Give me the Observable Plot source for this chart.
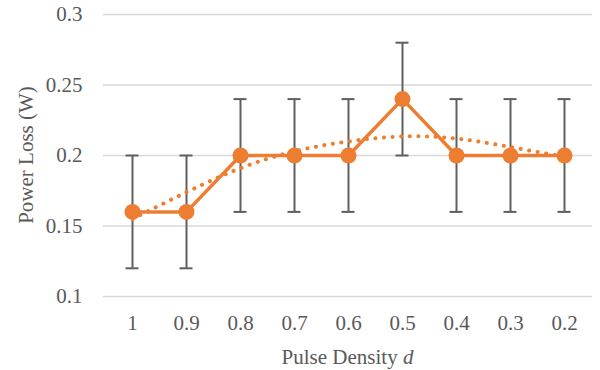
<!DOCTYPE html>
<html>
<head>
<meta charset="utf-8">
<script src="https://cdn.jsdelivr.net/npm/d3@7"></script>
<script src="https://cdn.jsdelivr.net/npm/@observablehq/plot@0.6"></script>
<style>
  body { margin: 0; background: #fff; }
  #chart { width: 600px; height: 370px; }
  #chart svg, #chart svg text { font-family: 'Liberation Serif', 'Times New Roman', serif !important; }
</style>
</head>
<body>
<div id="chart"></div>
<script>
const categories = ["1", "0.9", "0.8", "0.7", "0.6", "0.5", "0.4", "0.3", "0.2"];
const powerLoss = [0.16, 0.16, 0.2, 0.2, 0.2, 0.24, 0.2, 0.2, 0.2];
const errorPlusMinus = [0.04, 0.04, 0.04, 0.04, 0.04, 0.04, 0.04, 0.04, 0.04];
const trendValues = [0.155, 0.174, 0.191, 0.203, 0.210, 0.2135, 0.212, 0.206, 0.199];
const yTicks = [0.1, 0.15, 0.2, 0.25, 0.3];
const yTickLabels = ["0.1", "0.15", "0.2", "0.25", "0.3"];

const data = categories.map((c, i) => ({
  d: c, v: powerLoss[i], lo: powerLoss[i] - errorPlusMinus[i], hi: powerLoss[i] + errorPlusMinus[i], t: trendValues[i]
}));

const orange = "#ED7D31";
const grey = "#5f5f5f";
const textColor = "#595959";
const font = "Liberation Serif";

const chart = Plot.plot({
  width: 600,
  height: 370,
  marginLeft: 103,
  marginRight: 8,
  marginTop: 14,
  marginBottom: 74,
  style: { fontFamily: font, fontSize: "21px", color: textColor, background: "#fff" },
  x: { type: "band", domain: categories, padding: 0, label: null },
  y: { domain: [0.1, 0.3], label: null },
  marks: [
    Plot.ruleY(yTicks, { stroke: "#d9d9d9", strokeWidth: 1.5 }),
    Plot.axisY({ ticks: yTicks, tickFormat: (d) => yTickLabels[yTicks.indexOf(d)], tickSize: 0, tickPadding: 21, fill: textColor, fontSize: 21, fontFamily: font, label: null }),
    Plot.axisX({ tickSize: 0, tickPadding: 19, fill: textColor, fontSize: 21, fontFamily: font, label: null }),
    Plot.ruleX(data, { x: "d", y1: "lo", y2: "hi", stroke: grey, strokeWidth: 2 }),
    Plot.tickY(data, { x: "d", y: "lo", stroke: grey, strokeWidth: 2, insetLeft: 20.5, insetRight: 20.5 }),
    Plot.tickY(data, { x: "d", y: "hi", stroke: grey, strokeWidth: 2, insetLeft: 20.5, insetRight: 20.5 }),
    Plot.line(data, { x: "d", y: "t", curve: "natural", stroke: orange, strokeWidth: 4, strokeDasharray: "0.1 8.5", strokeLinecap: "round" }),
    Plot.line(data, { x: "d", y: "v", stroke: orange, strokeWidth: 3.5 }),
    Plot.dot(data, { x: "d", y: "v", r: 8, fill: orange, stroke: "none" })
  ]
});

const svg = d3.select(chart);
svg.append("text")
  .attr("x", 347.5).attr("y", 364)
  .attr("text-anchor", "middle")
  .attr("fill", textColor)
  .style("font-family", font).style("font-size", "21px")
  .call(t => {
    t.append("tspan").text("Pulse Density ");
    t.append("tspan").attr("font-style", "italic").text("d");
  });
svg.append("text")
  .attr("transform", "translate(33,155) rotate(-90)")
  .attr("text-anchor", "middle")
  .attr("fill", textColor)
  .style("font-family", font).style("font-size", "21px")
  .text("Power Loss (W)");

document.getElementById("chart").appendChild(chart);
</script>
</body>
</html>
